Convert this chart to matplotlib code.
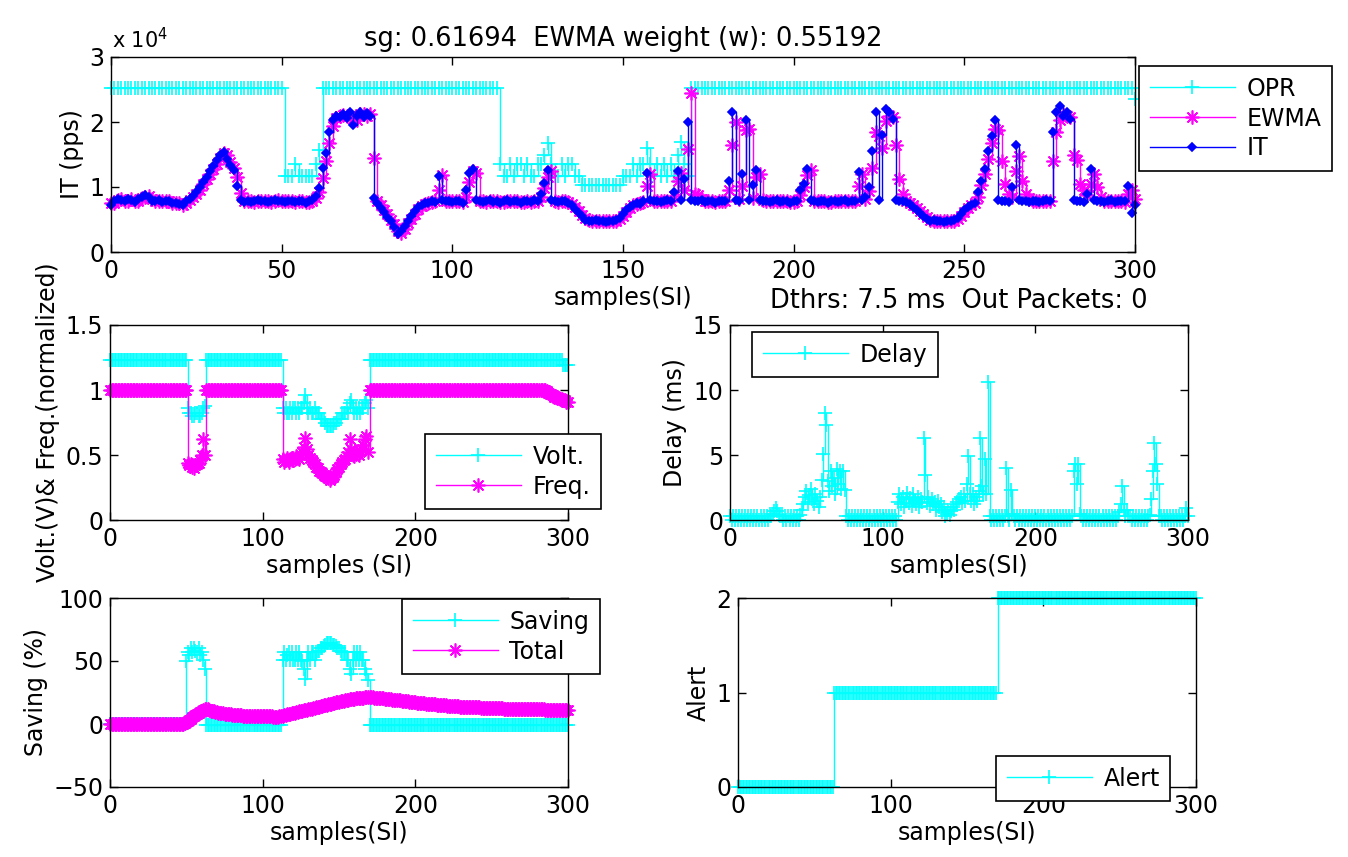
import matplotlib.pyplot as plt
import numpy as np

plt.rcParams['font.family'] = ['DejaVu Sans']
plt.rcParams['font.size'] = 17
plt.rcParams['axes.linewidth'] = 1.0

samples = np.arange(301)

# IT and EWMA, in thousands of packets per second
it_k = [
    7.3, 7.9, 8.1, 8.0, 7.8, 8.1, 8.0, 7.7, 8.2, 8.4,
    8.7, 8.5, 7.9, 7.8, 8.0, 7.7, 7.9, 7.8, 7.5, 7.6,
    7.4, 7.3, 7.8, 8.2, 8.6, 9.2, 10.0, 10.8, 11.6, 12.4,
    13.2, 14.1, 14.9, 15.4, 14.3, 13.4, 12.6, 10.2, 8.0, 7.7,
    7.9, 7.7, 7.8, 8.0, 7.8, 7.9, 7.7, 7.8, 8.0, 7.9,
    7.8, 7.7, 7.9, 7.8, 7.7, 7.9, 7.8, 7.6, 7.8, 8.0,
    8.6, 9.8, 13.0, 15.2, 18.5, 20.3, 21.0, 20.8, 21.3, 20.6,
    21.5, 19.6, 21.0, 21.6, 20.7, 21.4, 20.9, 8.3, 7.5, 6.8,
    6.1, 5.4, 4.7, 3.9, 2.7, 3.3, 4.0, 4.8, 5.5, 6.3,
    6.9, 7.3, 7.5, 7.6, 7.8, 7.7, 11.7, 8.0, 7.8, 7.9,
    7.7, 7.9, 7.8, 7.6, 9.5, 12.1, 12.7, 8.0, 7.9, 7.7,
    7.8, 8.0, 7.7, 7.9, 7.6, 7.8, 8.0, 7.7, 7.9, 7.8,
    7.6, 7.9, 7.8, 7.7, 8.0, 7.9, 9.0, 10.6, 12.6, 8.0,
    7.8, 7.7, 7.9, 7.8, 7.6, 7.2, 6.6, 6.0, 5.5, 5.0,
    4.8, 4.7, 4.9, 4.7, 4.8, 4.6, 4.8, 4.7, 4.9, 5.3,
    5.9, 6.5, 7.0, 7.3, 7.5, 7.4, 7.9, 12.2, 8.0, 7.8,
    7.9, 7.7, 7.8, 8.0, 7.8, 9.3, 12.4, 8.0, 11.2, 20.0,
    8.0, 7.9, 7.8, 8.0, 7.7, 7.9, 7.8, 7.6, 7.9, 7.8,
    7.9, 11.0, 21.6, 8.0, 7.9, 12.0, 20.3, 8.0, 10.3, 12.6,
    8.0, 7.8, 7.9, 7.7, 7.8, 8.0, 7.7, 7.9, 7.8, 7.6,
    7.8, 7.9, 9.6, 10.5, 12.8, 8.0, 7.8, 7.7, 7.9, 7.8,
    7.6, 7.8, 7.9, 7.7, 7.8, 8.0, 7.7, 7.9, 7.8, 12.3,
    8.0, 8.5, 10.0, 15.5, 21.5, 8.0, 18.0, 22.0, 21.5, 20.5,
    8.0, 7.9, 7.8, 7.7, 7.4, 7.0, 6.5, 6.0, 5.6, 5.1,
    4.8, 4.9, 4.7, 4.8, 4.6, 4.8, 4.7, 4.9, 5.3, 5.9,
    6.5, 7.0, 7.3, 7.6, 9.3, 11.0, 12.8, 15.5, 17.8, 20.3,
    8.0, 7.9, 7.8, 7.7, 10.0, 16.5, 8.0, 7.8, 7.9, 7.7,
    7.8, 7.9, 7.7, 7.8, 8.0, 7.9, 18.5, 21.5, 22.5, 21.0,
    21.5, 20.5, 8.0, 7.8, 7.9, 7.7, 9.0, 12.8, 8.0, 7.8,
    7.9, 7.7, 7.8, 8.0, 7.7, 7.9, 7.8, 7.8, 10.2, 6.0,
    7.2,
]

ewma_k = [
    7.5, 7.6, 8.0, 8.1, 7.9, 7.9, 8.1, 7.8, 7.9, 8.3,
    8.5, 8.6, 8.2, 7.8, 7.9, 7.8, 7.8, 7.9, 7.6, 7.5,
    7.5, 7.3, 7.5, 8.0, 8.4, 8.9, 9.6, 10.4, 11.2, 12.0,
    12.8, 13.6, 14.5, 15.2, 15.0, 13.9, 13.0, 11.5, 9.1, 7.9,
    7.8, 7.8, 7.7, 7.9, 7.9, 7.8, 7.8, 7.7, 7.9, 8.0,
    7.8, 7.8, 7.8, 7.9, 7.7, 7.8, 7.9, 7.7, 7.7, 7.9,
    8.3, 9.2, 11.4, 14.0, 16.8, 19.4, 20.6, 20.9, 21.1, 21.0,
    21.0, 20.5, 20.3, 21.3, 21.2, 21.0, 21.2, 14.5, 7.9, 7.2,
    6.5, 5.8, 5.0, 4.3, 3.3, 3.0, 3.6, 4.4, 5.1, 5.9,
    6.6, 7.1, 7.4, 7.5, 7.7, 7.8, 9.5, 11.8, 7.9, 7.8,
    7.8, 7.8, 7.8, 7.7, 8.5, 10.8, 12.4, 12.2, 7.9, 7.8,
    7.7, 7.9, 7.8, 7.8, 7.7, 7.7, 7.9, 7.8, 7.8, 7.8,
    7.7, 7.7, 7.8, 7.7, 7.9, 7.9, 8.4, 9.8, 11.6, 12.4,
    7.9, 7.7, 7.8, 7.8, 7.7, 7.4, 6.9, 6.3, 5.7, 5.2,
    4.9, 4.7, 4.8, 4.8, 4.7, 4.7, 4.7, 4.7, 4.8, 5.1,
    5.6, 6.2, 6.8, 7.2, 7.4, 7.5, 7.7, 10.2, 12.0, 7.9,
    7.8, 7.8, 7.8, 7.9, 7.9, 8.6, 11.0, 12.1, 9.6, 15.9,
    24.5, 9.0, 8.8, 8.2, 7.9, 7.8, 7.8, 7.7, 7.8, 7.8,
    7.8, 9.6, 16.5, 20.0, 8.1, 10.1, 18.8, 19.0, 8.3, 11.5,
    12.0, 8.0, 7.9, 7.8, 7.8, 7.9, 7.8, 7.8, 7.8, 7.7,
    7.7, 7.8, 8.8, 10.0, 11.8, 12.6, 7.9, 7.8, 7.8, 7.8,
    7.7, 7.7, 7.8, 7.8, 7.8, 7.9, 7.8, 7.8, 7.8, 10.2,
    12.0, 8.2, 9.4, 13.0, 18.5, 17.8, 16.0, 20.2, 21.0, 20.8,
    16.5, 11.3, 9.0, 7.8, 7.6, 7.2, 6.8, 6.3, 5.8, 5.4,
    5.0, 4.8, 4.8, 4.8, 4.7, 4.7, 4.8, 4.8, 5.1, 5.6,
    6.2, 6.8, 7.2, 7.5, 8.5, 10.3, 12.0, 14.3, 16.8, 19.0,
    18.7, 14.0, 10.5, 9.0, 8.4, 12.5, 14.8, 11.0, 9.0, 8.3,
    7.8, 7.8, 7.8, 7.8, 7.9, 7.9, 14.0, 18.5, 20.3, 21.2,
    21.0, 20.8, 15.0, 14.2, 10.5, 9.5, 8.8, 10.5, 12.0, 10.0,
    8.5, 7.9, 7.8, 7.9, 7.8, 7.8, 7.8, 7.7, 8.9, 9.5,
    8.2,
]

opr_k = ([25.2] * 51
         + [11.7, 11.7, 11.7, 13.5, 11.7, 11.7, 11.7, 11.7, 11.7, 13.5, 15.7]
         + [25.2] * 52
         + [13.5, 11.7, 11.7, 13.5, 11.7, 13.5, 13.5, 11.7, 13.5, 11.7,
            11.7, 13.5, 13.5, 15.0, 16.8, 13.5, 11.7, 11.7, 13.5, 11.7,
            13.5, 13.5, 11.7, 11.7, 10.3, 10.3, 10.3, 10.3, 10.3, 10.3,
            10.3, 10.3, 10.3, 10.3, 10.3, 10.3, 11.7, 11.7, 11.7, 13.5,
            11.7, 13.5, 13.5, 16.0, 13.5, 11.7, 13.5, 11.7, 13.5, 11.7,
            13.5, 11.7, 15.0, 17.0, 13.5, 11.7]
         + [25.2] * 130
         + [23.5])

volt = ([1.23] * 51
        + [0.86, 0.82, 0.82, 0.80, 0.80, 0.82, 0.82, 0.80, 0.80, 0.82, 0.86, 0.88]
        + [1.23] * 50
        + [0.86, 0.82, 0.86, 0.82, 0.82, 0.86, 0.82, 0.86, 0.86, 0.82,
           0.86, 0.82, 0.86, 0.86, 0.90, 0.96, 0.86, 0.82, 0.86, 0.82,
           0.82, 0.86, 0.82, 0.82, 0.82, 0.78, 0.78, 0.78, 0.75, 0.72,
           0.72, 0.72, 0.72, 0.72, 0.75, 0.75, 0.78, 0.78, 0.78, 0.82,
           0.82, 0.82, 0.86, 0.82, 0.90, 0.92, 0.86, 0.82, 0.86, 0.82,
           0.86, 0.82, 0.86, 0.86, 0.90, 0.92, 0.86]
        + [1.23] * 127
        + [1.19] * 4)

freq = ([1.0] * 51
        + [0.44, 0.42, 0.43, 0.41, 0.40, 0.42, 0.43, 0.44, 0.46, 0.50, 0.62, 0.50]
        + [1.0] * 50
        + [0.47, 0.45, 0.46, 0.48, 0.45, 0.47, 0.46, 0.48, 0.47, 0.49,
           0.48, 0.47, 0.50, 0.52, 0.56, 0.63, 0.55, 0.50, 0.48, 0.46,
           0.45, 0.43, 0.41, 0.40, 0.38, 0.37, 0.36, 0.35, 0.34, 0.33,
           0.32, 0.31, 0.32, 0.33, 0.35, 0.37, 0.39, 0.41, 0.43, 0.45,
           0.46, 0.47, 0.49, 0.52, 0.62, 0.55, 0.50, 0.49, 0.51, 0.52,
           0.50, 0.53, 0.55, 0.58, 0.62, 0.65, 0.52]
        + [1.0] * 116
        + [0.99, 0.98, 0.97, 0.97, 0.96, 0.95, 0.95, 0.94, 0.94, 0.93,
           0.93, 0.92, 0.92, 0.91, 0.91])


def baseline(n):
    # delay floor seen in the picture: it flickers between 0 and 0.3 ms
    return ([0.3, 0.0] * n)[:n]


delay = (baseline(27)
         + [0.3, 0.5, 0.7, 0.9, 0.7, 0.4, 0.3]
         + baseline(12)
         + [0.4, 0.8, 1.2, 1.8, 2.2, 1.4, 1.9, 2.4, 1.6, 1.2, 2.0, 1.5, 1.0, 1.8, 3.1, 5.1]
         + [8.2, 7.3, 3.0, 2.2, 3.8, 2.6, 3.2, 2.0, 3.9, 2.8, 3.8, 2.4, 3.8, 2.3]
         + baseline(34)
         + [1.4, 2.0, 1.2, 1.8, 1.0, 1.6, 2.1, 1.3, 1.7, 1.1, 2.0, 1.5, 1.2, 1.8, 1.0, 1.6, 1.4]
         + [6.3, 3.5, 1.3]
         + [1.8, 1.1, 1.6, 1.2, 1.4, 0.8, 1.5, 1.0, 1.2, 0.6, 1.0, 0.3, 0.5, 0.8, 0.4,
            0.7, 1.0, 0.8, 1.2, 1.4, 1.6]
         + [1.8, 1.3, 2.0, 1.5, 2.8, 4.9, 2.0, 1.5, 2.0, 1.2, 1.8, 1.5, 2.2, 6.3, 2.6,
            2.0, 4.7, 2.0, 10.6]
         + baseline(10)
         + [0.3, 4.0, 0.3, 0.0, 2.3, 0.5]
         + baseline(39)
         + [3.8, 4.3, 2.8, 4.3, 0.5]
         + baseline(25)
         + [0.6, 1.2, 2.6, 0.8, 0.3, 0.8, 0.3]
         + baseline(13)
         + [0.4, 1.6, 3.8, 5.9, 4.3, 2.8, 0.3]
         + baseline(17)
         + [0.9, 0.3])

saving = ([0.0] * 50
          + [50, 57, 55, 60, 57, 60, 58, 57, 60, 55, 57, 51, 44]
          + [-1.0] * 50
          + [51, 57, 51, 55, 57, 51, 57, 51, 51, 57,
             51, 57, 51, 50, 44, 36, 51, 57, 51, 57,
             57, 51, 57, 58, 58, 60, 60, 62, 63, 64,
             64, 64, 64, 63, 63, 62, 60, 60, 58, 57,
             57, 57, 51, 51, 44, 40, 51, 57, 51, 57,
             51, 57, 51, 51, 44, 40, 35]
          + [-1.0] * 131)

total = ([0.0] * 49
         + [0.6, 1.5, 2.5, 3.4, 4.3, 5.2, 6.1, 7.0, 7.9, 8.8, 9.7, 10.6, 11.4, 12.0]
         + [12.1, 11.6, 11.1, 10.7, 10.3, 10.0, 9.7, 9.4, 9.1, 8.9, 8.7, 8.5, 8.3,
            8.1, 7.9, 7.8, 7.6, 7.5, 7.3, 7.2, 7.1, 7.0, 6.9, 6.8, 6.7, 6.6]
         + [6.6, 6.5, 6.5, 6.4, 6.4, 6.3, 6.3, 6.3, 6.2, 6.2, 6.2, 6.1, 6.1, 6.1,
            6.0, 6.0, 6.0, 6.0, 5.9, 5.9, 5.9, 5.9]
         + [6.1, 6.4, 6.7, 7.0, 7.3, 7.6, 7.9, 8.2, 8.5, 8.8,
            9.1, 9.4, 9.7, 10.0, 10.3, 10.6, 10.9, 11.2, 11.4, 11.7,
            12.0, 12.3, 12.6, 12.9, 13.2, 13.5, 13.8, 14.1, 14.4, 14.7,
            15.0, 15.3, 15.6, 15.9, 16.2, 16.5, 16.8, 17.1, 17.4, 17.7,
            18.0, 18.3, 18.5, 18.8, 19.0, 19.3, 19.5, 19.7, 19.9, 20.1,
            20.3, 20.5, 20.6, 20.8, 20.9, 21.0, 21.1, 21.2, 21.3, 21.3]
         + [21.2, 21.1, 21.0, 20.9, 20.8, 20.7, 20.6, 20.4, 20.3, 20.2,
            20.0, 19.9, 19.7, 19.6, 19.4, 19.3, 19.1, 19.0, 18.8, 18.7,
            18.5, 18.4, 18.2, 18.1, 17.9, 17.8, 17.6, 17.5, 17.3, 17.2,
            17.0, 16.9, 16.8, 16.6, 16.5, 16.4, 16.2, 16.1, 16.0, 15.8,
            15.7, 15.6, 15.5, 15.4, 15.2, 15.1, 15.0, 14.9, 14.8, 14.7,
            14.6, 14.5, 14.4, 14.3, 14.2, 14.1, 14.0, 13.9, 13.8, 13.7,
            13.6, 13.6, 13.5, 13.5, 13.4, 13.4, 13.3, 13.3, 13.2, 13.2,
            13.1, 13.1, 13.0, 13.0, 12.9, 12.9, 12.8, 12.8, 12.7, 12.7,
            12.6, 12.6, 12.5, 12.5, 12.5, 12.4, 12.4, 12.3, 12.3, 12.3,
            12.2, 12.2, 12.2, 12.1, 12.1, 12.1, 12.0, 12.0, 12.0, 11.9,
            11.9, 11.9, 11.8, 11.8, 11.8, 11.8, 11.7, 11.7, 11.7, 11.7,
            11.6, 11.6, 11.6, 11.6, 11.5, 11.5, 11.5, 11.5, 11.5, 11.4,
            11.4, 11.4, 11.4, 11.4, 11.3, 11.3, 11.3, 11.3, 11.3, 11.3])

alert = [0] * 63 + [1] * 107 + [2] * 131

W, H = 1348, 857
CYAN, MAGENTA, BLUE = '#00ffff', '#ff00ff', '#0000ff'
ASTERISK = (8, 2, 0)  # MATLAB style '*' (line asterisk, not a filled star)


def box(x0, y0, x1, y1):
    # pixel box of the reference -> figure fractions
    return [x0 / W, 1 - y1 / H, (x1 - x0) / W, (y1 - y0) / H]


def style(ax, ylim, yticks, xticks):
    ax.set_xlim(0, 300)
    ax.set_ylim(*ylim)
    ax.set_xticks(xticks)
    ax.set_yticks(yticks)
    ax.tick_params(direction='in', top=True, right=True, length=6, width=1, pad=5)


def legend(ax, x, y):
    leg = ax.legend(loc='upper left', bbox_to_anchor=(x / W, 1 - y / H),
                    bbox_transform=fig.transFigure, borderaxespad=0,
                    fancybox=False, edgecolor='black', framealpha=1,
                    handlelength=3.6, numpoints=1, labelspacing=0.25,
                    borderpad=0.45, handletextpad=0.5)
    leg.get_frame().set_linewidth(1.2)
    return leg


def stairs(ax, y, color, marker, ms, label):
    ax.plot(samples, y, color=color, lw=1.0, marker=marker, ms=ms, mew=1.2,
            drawstyle='steps-post', label=label, clip_on=False)


fig = plt.figure(figsize=(W / 100, H / 100), dpi=100)

# top: traffic
ax1 = fig.add_axes(box(111, 57, 1135, 252))
stairs(ax1, np.array(opr_k) / 10, CYAN, '+', 10, 'OPR')
stairs(ax1, np.array(ewma_k) / 10, MAGENTA, ASTERISK, 10, 'EWMA')
stairs(ax1, np.array(it_k) / 10, BLUE, 'D', 4.5, 'IT')
style(ax1, (0, 3), [0, 1, 2, 3], range(0, 301, 50))
ax1.set_ylabel('IT (pps)')
ax1.set_xlabel('samples(SI)', labelpad=2)
ax1.set_title('sg: 0.61694  EWMA weight (w): 0.55192', fontsize=18.5, pad=8)
fig.text(112 / W, 1 - 40 / H, r'x 10$^{4}$', ha='left', va='center', fontsize=15)
legend(ax1, 1139, 66)

# middle left: voltage / frequency
ax2 = fig.add_axes(box(110, 325, 568, 520))
stairs(ax2, volt, CYAN, '+', 10, 'Volt.')
stairs(ax2, freq, MAGENTA, ASTERISK, 10, 'Freq.')
style(ax2, (0, 1.5), [0, 0.5, 1, 1.5], [0, 100, 200, 300])
ax2.set_yticklabels(['0', '0.5', '1', '1.5'])
ax2.set_ylabel('Volt.(V)& Freq.(normalized)')
ax2.set_xlabel('samples (SI)', labelpad=2)
legend(ax2, 425, 434)

# middle right: delay
ax3 = fig.add_axes(box(730, 325, 1188, 520))
stairs(ax3, delay, CYAN, '+', 10, 'Delay')
style(ax3, (0, 15), [0, 5, 10, 15], [0, 100, 200, 300])
ax3.set_ylabel('Delay (ms)')
ax3.set_xlabel('samples(SI)', labelpad=2)
ax3.set_title('Dthrs: 7.5 ms  Out Packets: 0', fontsize=18.5, pad=12)
legend(ax3, 752, 332)

# bottom left: saving
ax4 = fig.add_axes(box(110, 598, 568, 787))
stairs(ax4, saving, CYAN, '+', 10, 'Saving')
stairs(ax4, total, MAGENTA, ASTERISK, 10, 'Total')
style(ax4, (-50, 100), [-50, 0, 50, 100], [0, 100, 200, 300])
ax4.set_ylabel('Saving (%)')
ax4.set_xlabel('samples(SI)', labelpad=2)
legend(ax4, 402, 599)

# bottom right: alert level
ax5 = fig.add_axes(box(738, 598, 1196, 787))
stairs(ax5, alert, CYAN, '+', 10, 'Alert')
style(ax5, (0, 2), [0, 1, 2], [0, 100, 200, 300])
ax5.set_ylabel('Alert')
ax5.set_xlabel('samples(SI)', labelpad=2)
legend(ax5, 996, 756)

fig.savefig('out.png', dpi=100)
